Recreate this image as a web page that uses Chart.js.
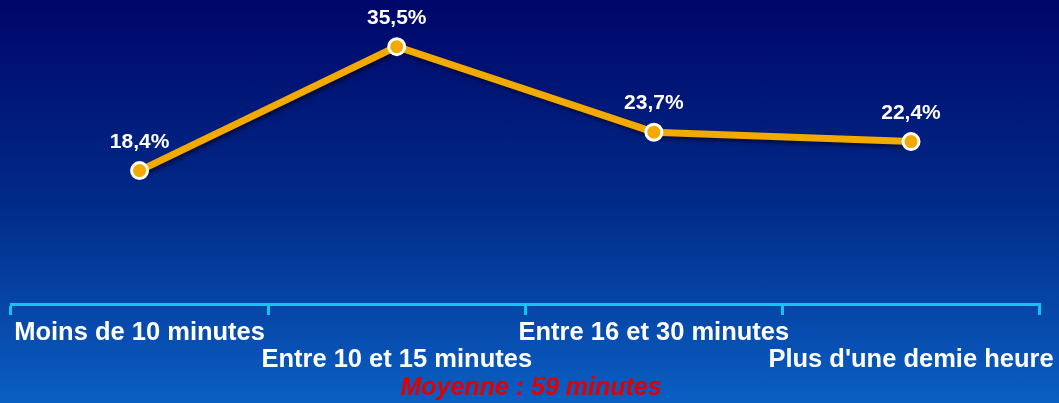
<!DOCTYPE html>
<html>
<head>
<meta charset="utf-8">
<script src="https://cdn.jsdelivr.net/npm/chart.js@4.4.0/dist/chart.umd.min.js"></script>
<style>
  html, body { margin: 0; padding: 0; }
  body {
    width: 1059px; height: 403px; overflow: hidden;
    background: linear-gradient(to bottom, #00066a 0%, #012a88 50%, #0a5fc3 100%);
  }
  #wrap { position: relative; width: 1059px; height: 403px; }
</style>
</head>
<body>
<div id="wrap"><canvas id="chart"></canvas></div>
<script>
const categories = [
  'Moins de 10 minutes',
  'Entre 10 et 15 minutes',
  'Entre 16 et 30 minutes',
  "Plus d'une demie heure"
];
const shares = [18.4, 35.5, 23.7, 22.4];
const averageText = 'Moyenne : 59 minutes';

const FONT = "'Liberation Sans', Arial, sans-serif";
const GOLD = '#f2aa00';
const CYAN = '#12c4f2';

// every other label goes on a second row
const labels = categories.map((c, i) => (i % 2 ? ['', c] : [c]));

const valueLabels = {
  id: 'valueLabels',
  afterDatasetsDraw(chart) {
    const ctx = chart.ctx;
    const meta = chart.getDatasetMeta(0);
    ctx.save();
    ctx.font = 'bold 21px ' + FONT;
    ctx.fillStyle = '#ffffff';
    ctx.textAlign = 'center';
    ctx.textBaseline = 'bottom';
    meta.data.forEach((pt, i) => {
      const txt = shares[i].toFixed(1).replace('.', ',') + '%';
      ctx.fillText(txt, pt.x, pt.y - 18);
    });
    ctx.restore();
  }
};

// soft drop shadow under the line only (points stay clean)
const lineShadow = {
  id: 'lineShadow',
  beforeDatasetDraw(chart, args) {
    const line = args.meta.dataset;
    if (!line || line._shadowed) return;
    const draw = line.draw.bind(line);
    line.draw = function (ctx, area) {
      ctx.save();
      ctx.shadowColor = 'rgba(0,0,25,0.6)';
      ctx.shadowBlur = 4;
      ctx.shadowOffsetX = 2;
      ctx.shadowOffsetY = 3;
      draw(ctx, area);
      ctx.restore();
    };
    line._shadowed = true;
  }
};

new Chart(document.getElementById('chart'), {
  type: 'line',
  data: {
    labels: labels,
    datasets: [{
      data: shares,
      borderColor: GOLD,
      borderWidth: 7,
      backgroundColor: GOLD,
      pointBackgroundColor: GOLD,
      pointBorderColor: '#ffffff',
      pointBorderWidth: 3,
      pointRadius: 8,
      tension: 0,
      fill: false
    }]
  },
  options: {
    responsive: true,
    maintainAspectRatio: false,
    animation: false,
    layout: { padding: { left: 11, right: 8, top: 14, bottom: 0 } },
    plugins: {
      legend: { display: false },
      tooltip: { enabled: false },
      title: {
        display: true,
        position: 'bottom',
        text: averageText,
        color: '#e00000',
        font: { family: FONT, size: 25, weight: 'bold', style: 'italic', lineHeight: 1.2 },
        padding: { top: 0, bottom: 0 }
      }
    },
    scales: {
      x: {
        offset: true,
        afterFit(scale) { scale.height = 69; },
        grid: {
          offset: true,
          drawOnChartArea: false,
          drawTicks: true,
          tickLength: 11,
          color: CYAN,
          lineWidth: 3
        },
        border: { display: true, color: CYAN, width: 3 },
        ticks: {
          autoSkip: false,
          maxRotation: 0,
          minRotation: 0,
          padding: 4,
          color: '#ffffff',
          font: { family: FONT, size: 25.5, weight: 'bold', lineHeight: 1.06 }
        }
      },
      y: {
        display: false,
        min: 0,
        max: 40
      }
    }
  },
  plugins: [lineShadow, valueLabels]
});
</script>
</body>
</html>
